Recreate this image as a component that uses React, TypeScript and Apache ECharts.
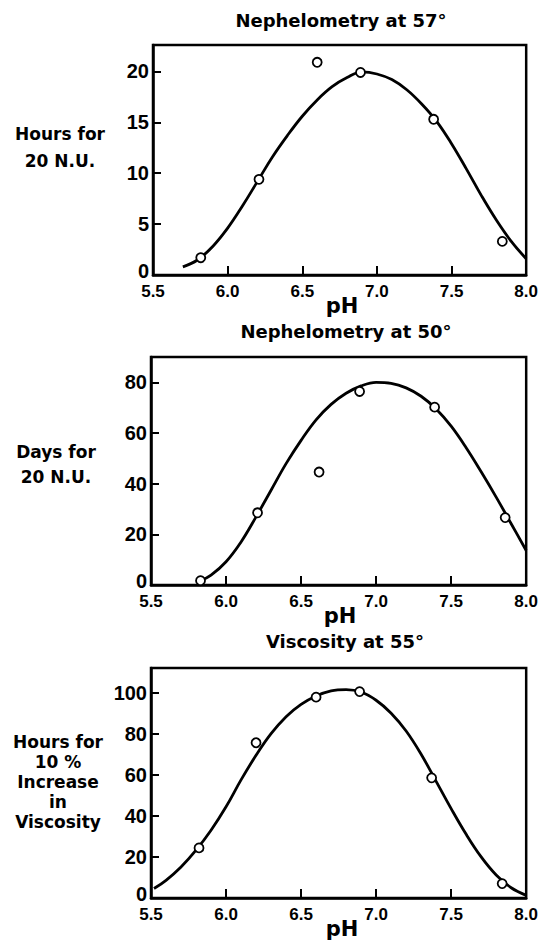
import React, { useEffect, useRef } from "react";
import * as echarts from "echarts";

// Panel 1: Nephelometry at 57°
const ph57Points = [5.82, 6.21, 6.6, 6.89, 7.38, 7.84];
const hours57 = [1.7, 9.4, 20.9, 19.9, 15.3, 3.3];
const ph57Curve = [5.7, 5.8, 5.9, 6.0, 6.1, 6.2, 6.3, 6.4, 6.5, 6.6, 6.7, 6.8, 6.9, 7.0, 7.1, 7.2, 7.3, 7.4, 7.5, 7.6, 7.7, 7.8, 7.9, 8.0];
const hours57Curve = [0.8, 1.5, 2.8, 4.6, 6.8, 9.2, 11.6, 13.7, 15.6, 17.2, 18.5, 19.4, 19.95, 19.75, 19.2, 18.2, 16.8, 15.1, 12.9, 10.4, 7.8, 5.4, 3.3, 1.6];

// Panel 2: Nephelometry at 50°
const ph50Points = [5.83, 6.21, 6.62, 6.89, 7.39, 7.86];
const days50 = [1.7, 28.5, 44.6, 76.4, 70.2, 26.6];
const ph50Curve = [5.83, 5.9, 6.0, 6.1, 6.2, 6.3, 6.4, 6.5, 6.6, 6.7, 6.8, 6.9, 7.0, 7.1, 7.2, 7.3, 7.4, 7.5, 7.6, 7.7, 7.8, 7.9, 8.0];
const days50Curve = [1.7, 3.9, 9.2, 17.0, 26.9, 37.4, 47.9, 57.1, 65.2, 71.3, 75.7, 78.6, 80.0, 79.6, 77.8, 74.5, 69.5, 62.7, 54.2, 44.7, 34.7, 24.2, 13.6];

// Panel 3: Viscosity at 55°
const ph55Points = [5.82, 6.2, 6.6, 6.89, 7.37, 7.84];
const visc55 = [24.4, 75.6, 97.8, 100.5, 58.5, 7.0];
const ph55Curve = [5.52, 5.6, 5.7, 5.8, 5.9, 6.0, 6.1, 6.2, 6.3, 6.4, 6.5, 6.6, 6.7, 6.8, 6.9, 7.0, 7.1, 7.2, 7.3, 7.4, 7.5, 7.6, 7.7, 7.8, 7.9, 8.0];
const visc55Curve = [4.6, 8.6, 15.1, 23.3, 33, 44.4, 57.5, 69.5, 80.0, 88.3, 94.3, 98.4, 100.9, 101.5, 100.3, 96.3, 90.0, 81.3, 70.0, 56.8, 43.5, 31.0, 20.0, 11.2, 5.0, 1.3];

const titles = ["Nephelometry at 57°", "Nephelometry at 50°", "Viscosity at 55°"];
const yNames = [["Hours for", "20 N.U."], ["Days for", "20 N.U."], ["Hours for", "10 %", "Increase", "in", "Viscosity"]];
const xName = "pH";

const TICKFONT = "'Liberation Sans', Arial, sans-serif";
const LABELFONT = "'DejaVu Sans', sans-serif";

const zip = (xs: number[], ys: number[]) => xs.map((x, i) => [x, ys[i]]);

export default function App() {
  const ref = useRef<HTMLDivElement>(null);
  useEffect(() => {
    if (!ref.current) return;
    const chart = echarts.init(ref.current, undefined, { renderer: "svg" });
    const grids = [
      { left: 153, top: 45, width: 377, height: 230 },
      { left: 151, top: 357, width: 377, height: 228 },
      { left: 151, top: 668, width: 379, height: 230 },
    ];
    const yCfg = [
      { max: 22.6, interval: 5 },
      { max: 90, interval: 20 },
      { max: 112, interval: 20 },
    ];
    const xAxis = grids.map((_, i) => ({
      type: "value",
      gridIndex: i,
      min: 5.5,
      max: 8.0,
      interval: 0.5,
      axisLine: { show: true, lineStyle: { color: "#000", width: 2.5 } },
      axisTick: { show: true, inside: true, length: 9, lineStyle: { color: "#000", width: 2 } },
      axisLabel: {
        color: "#000",
        fontFamily: TICKFONT,
        fontWeight: "bold",
        fontSize: 17,
        lineHeight: 13,
        margin: 10,
        formatter: (v: number) => v.toFixed(1),
      },
      splitLine: { show: false },
    }));
    const yAxis = grids.map((_, i) => ({
      type: "value",
      gridIndex: i,
      min: 0,
      max: yCfg[i].max,
      interval: yCfg[i].interval,
      axisLine: { show: true, lineStyle: { color: "#000", width: 2.5 } },
      axisTick: { show: true, inside: true, length: 8, lineStyle: { color: "#000", width: 2 } },
      axisLabel: {
        color: "#000",
        fontFamily: TICKFONT,
        fontWeight: "bold",
        fontSize: 20,
        lineHeight: 12,
        margin: 4,
        showMaxLabel: false,
        formatter: (v: number) => (v === 0 ? "{z|0}" : String(v)),
        rich: {
          z: {
            color: "#000",
            fontFamily: TICKFONT,
            fontWeight: "bold",
            fontSize: 20,
            lineHeight: 12,
            padding: [0, 0, 8, 0],
          },
        },
      },
      splitLine: { show: false },
    }));
    const curves = [
      zip(ph57Curve, hours57Curve),
      zip(ph50Curve, days50Curve),
      zip(ph55Curve, visc55Curve),
    ];
    const points = [
      zip(ph57Points, hours57),
      zip(ph50Points, days50),
      zip(ph55Points, visc55),
    ];
    const series: any[] = [];
    for (let i = 0; i < 3; i++) {
      series.push({
        type: "line",
        xAxisIndex: i,
        yAxisIndex: i,
        data: curves[i],
        smooth: 0.4,
        showSymbol: false,
        lineStyle: { color: "#000", width: 2.8 },
        z: 2,
      });
      series.push({
        type: "scatter",
        xAxisIndex: i,
        yAxisIndex: i,
        data: points[i],
        symbol: "circle",
        symbolSize: 9,
        itemStyle: { color: "#ffffff", borderColor: "#000", borderWidth: 1.8, opacity: 1 },
        z: 3,
      });
    }
    const titlePos = [
      { x: 341, y: 20 },
      { x: 346, y: 331 },
      { x: 345, y: 641 },
    ];
    const xNamePos = [
      { x: 342, y: 306 },
      { x: 340, y: 616 },
      { x: 342, y: 929 },
    ];
    const yNameCfg = [
      { x: 60, y0: 134, step: 27 },
      { x: 56, y0: 452, step: 25 },
      { x: 58, y0: 742, step: 20 },
    ];
    const graphic: any[] = [];
    for (let i = 0; i < 3; i++) {
      graphic.push({
        type: "text",
        x: titlePos[i].x,
        y: titlePos[i].y,
        style: {
          text: titles[i],
          fill: "#000",
          font: `bold 18px ${LABELFONT}`,
          textAlign: "center",
          textVerticalAlign: "middle",
        },
      });
      graphic.push({
        type: "text",
        x: xNamePos[i].x,
        y: xNamePos[i].y,
        style: {
          text: xName,
          fill: "#000",
          font: `bold 21px ${LABELFONT}`,
          textAlign: "center",
          textVerticalAlign: "middle",
        },
      });
      yNames[i].forEach((line, j) => {
        graphic.push({
          type: "text",
          x: yNameCfg[i].x,
          y: yNameCfg[i].y0 + j * yNameCfg[i].step,
          style: {
            text: line,
            fill: "#000",
            font: `bold 17px ${LABELFONT}`,
            textAlign: "center",
            textVerticalAlign: "middle",
          },
        });
      });
    }
    chart.setOption({
      animation: false,
      backgroundColor: "#fff",
      grid: grids.map((g) => ({ ...g, show: true, borderColor: "#000", borderWidth: 2.5, backgroundColor: "transparent" })),
      xAxis,
      yAxis,
      series,
      graphic,
    });
    return () => chart.dispose();
  }, []);
  return (
    <div
      ref={ref}
      style={{ position: "fixed", left: 0, top: 0, width: 541, height: 940, background: "#fff" }}
    />
  );
}
